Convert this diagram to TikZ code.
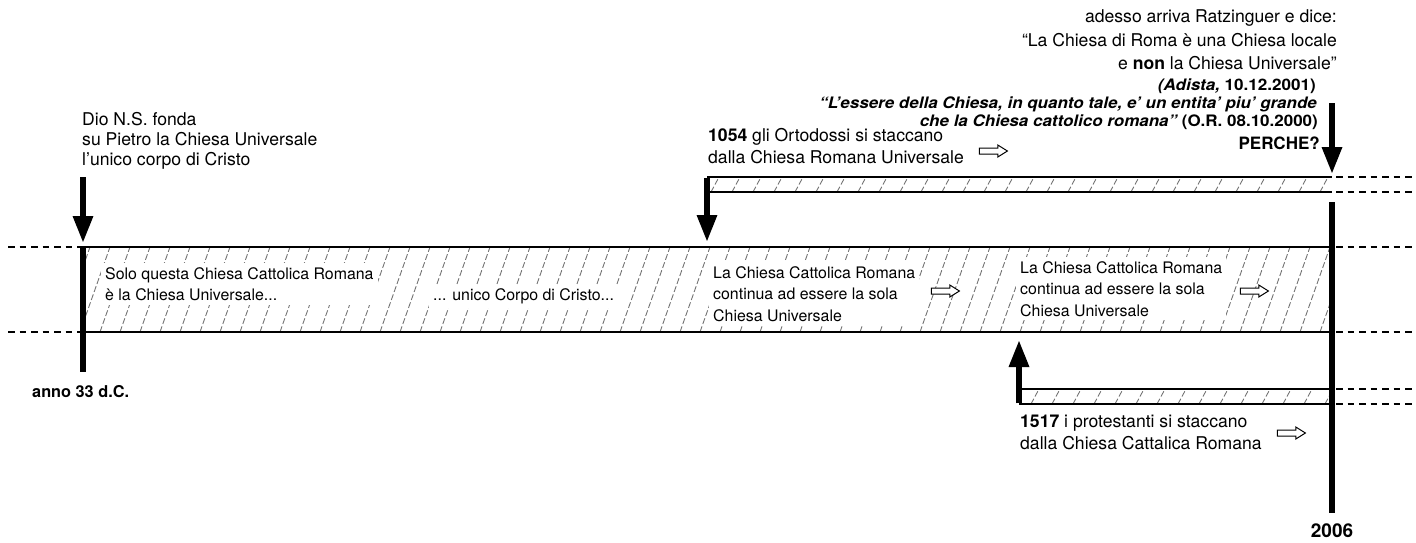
\documentclass[tikz,border=0pt]{standalone}
\usepackage{fontspec}
\setmainfont{TeX Gyre Heros}
\usepackage{graphicx}
\usetikzlibrary{arrows.meta,shapes.arrows}
\newcommand\fs{\fontsize{17.6}{20}\selectfont}
\newcommand\fsside{\fontsize{17.6}{22}\selectfont}
\newcommand\fsband{\fontsize{15.9}{21.5}\selectfont}
\newcommand\fstop{\fontsize{17.6}{23.5}\selectfont}
\newcommand\fsq{\fontsize{15.8}{18}\selectfont\bfseries}
\begin{document}
\begin{tikzpicture}[x=1pt,y=-1pt,
  bandline/.style={line width=1.4},
  thickline/.style={line width=6},
  bigarrow/.style={line width=6,-{Triangle[length=27,width=19]}},
  ext/.style={line width=1.2,dash pattern=on 6.5 off 5},
  hatchline/.style={draw=black!55,line width=0.9,dash pattern=on 6 off 2.5},
  txt/.style={inner sep=0,font=\fs,align=left},
  boxtxt/.style={inner sep=4,font=\fsband,align=left,fill=white},
  hollow/.style={single arrow,draw,fill=white,line width=1,minimum height=28,
    single arrow head extend=3,single arrow tip angle=64,inner xsep=0,inner ysep=0}
]
\useasboundingbox (0,0) rectangle (1416,542);
% band corners
\coordinate (mTL) at (83,247);  \coordinate (mTR) at (1332,247);
\coordinate (mBL) at (83,332);  \coordinate (mBR) at (1332,332);
\coordinate (oTL) at (707,177); \coordinate (oTR) at (1332,177);
\coordinate (oBL) at (707,192); \coordinate (oBR) at (1332,192);
\coordinate (pTL) at (1019,389); \coordinate (pTR) at (1332,389);
\coordinate (pBL) at (1019,404); \coordinate (pBR) at (1332,404);
% hatching
\begin{scope}
  \clip (mTL) rectangle (mBR);
  \foreach \x in {40,60,...,1360} \draw[hatchline] (\x,332) -- ++(30,-85);
\end{scope}
\begin{scope}
  \clip (oTL) rectangle (oBR);
  \foreach \x in {690,711,...,1350} \draw[hatchline] (\x,192) -- ++(8,-15);
\end{scope}
\begin{scope}
  \clip (pTL) rectangle (pBR);
  \foreach \x in {1010,1031,...,1350} \draw[hatchline] (\x,404) -- ++(8,-15);
\end{scope}
% band texts
\node[boxtxt,anchor=north west] (t1) at (101,263) {Solo questa Chiesa Cattolica Romana\\è la Chiesa Universale...};
\node[boxtxt,anchor=north west] (t2) at (429,284.5) {... unico Corpo di Cristo...};
\node[boxtxt,anchor=north west] (t3) at (709,262) {La Chiesa Cattolica Romana\\continua ad essere la sola\\Chiesa Universale};
\node[boxtxt,anchor=north west] (t4) at (1016,257) {La Chiesa Cattolica Romana\\continua ad essere la sola\\Chiesa Universale};
\node[hollow] (h1) at (943,291) {\rule{0pt}{5pt}};
\node[hollow] (h2) at (1252,291) {\rule{0pt}{5pt}};
\node[hollow] (h3) at (991,151) {\rule{0pt}{5pt}};
\node[hollow] (h4) at (1289,433) {\rule{0pt}{5pt}};
% band outlines
\draw[bandline] (mTL) -- (mTR) (mBL) -- (mBR);
\draw[bandline] (oTL) -- (oTR) (oBL) -- (oBR);
\draw[bandline] (pTL) -- (pTR) (pBL) -- (pBR);
% dashed extensions
\coordinate (eL1) at (8,247); \coordinate (eL2) at (8,332);
\draw[ext] (eL1) -- (mTL) (eL2) -- (mBL);
\foreach \y in {177,192,247,332,389,404} \draw[ext] (1336,\y) -- (1416,\y);
% thick lines and arrows
\coordinate (a33top) at (83,177); \coordinate (a33tip) at (83,243);
\coordinate (a33bot) at (83,372);
\draw[bigarrow] (a33top) -- (a33tip);
\draw[thickline] (mTL) -- (a33bot);
\coordinate (a54tip) at (707,242);
\draw[bigarrow] ([yshift=-0.7]oTL) -- (a54tip);
\coordinate (a17tip) at (1019,340);
\draw[bigarrow] ([yshift=0.7]pBL) -- (a17tip);
\coordinate (l06top) at (1332,202); \coordinate (l06bot) at (1332,513);
\draw[thickline] (l06top) -- (l06bot);
\coordinate (aRtop) at (1332,103); \coordinate (aRtip) at (1332,174);
\draw[bigarrow] (aRtop) -- (aRtip);
% texts
\node[txt,anchor=north west] (dio) at (82,112) {Dio N.S. fonda\\su Pietro la Chiesa Universale\\l’unico corpo di Cristo};
\node[txt,anchor=base west,font=\fontsize{16.3}{20}\selectfont\bfseries] (anno) at (32,397) {anno 33 d.C.};
\node[txt,anchor=base,font=\fontsize{19}{20}\selectfont\bfseries] (y2006) at (1332,537) {2006};
\node[txt,anchor=north west,font=\fsside] (orto) at (708,128) {\textbf{1054} gli Ortodossi si staccano\\dalla Chiesa Romana Universale};
\node[txt,anchor=north west,font=\fsside] (prot) at (1020,415) {\textbf{1517} i protestanti si staccano\\dalla Chiesa Cattalica Romana};
\node[txt,anchor=north east,align=right,font=\fstop] (ratz) at (1337,9.5) {adesso arriva Ratzinguer e dice:\\“La Chiesa di Roma è una Chiesa locale\\e \textbf{non} la Chiesa Universale”};
\node[txt,anchor=base east,font=\fsq] (adista) at (1316,90) {\scalebox{1.08}[1]{\itshape (Adista, \upshape 10.12.2001)}};
\node[txt,anchor=base east,font=\fsq] (ess1) at (1317,108.5) {\scalebox{1.075}[1]{\itshape “L’essere della Chiesa, in quanto tale, e’ un entita’ piu’ grande}};
\node[txt,anchor=base east,font=\fsq] (ess2) at (1318,126) {\scalebox{1.075}[1]{\itshape che la Chiesa cattolico romana” \upshape (O.R. 08.10.2000)}};
\node[txt,anchor=base east,font=\fontsize{17}{18}\selectfont\bfseries] (perche) at (1320,149) {PERCHE?};
\end{tikzpicture}
\end{document}
